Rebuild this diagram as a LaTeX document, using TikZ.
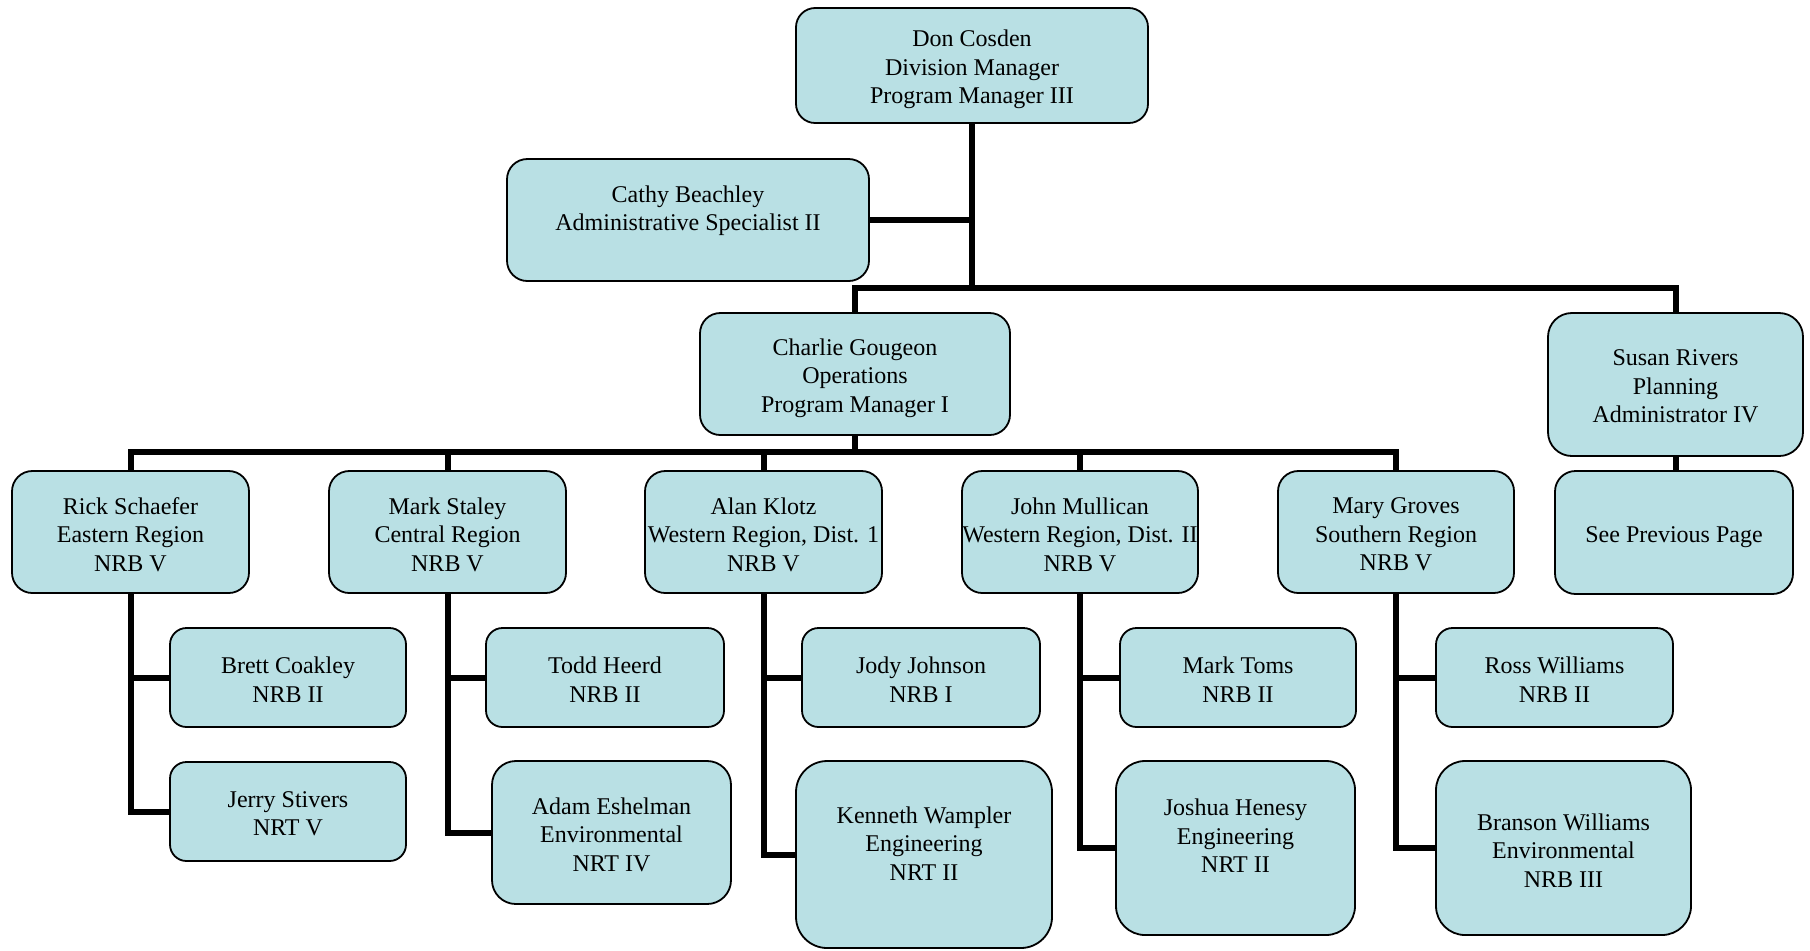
\documentclass[tikz,border=0pt]{standalone}
\usepackage{fontspec}
\setmainfont{Liberation Serif}
\definecolor{boxfill}{RGB}{185,224,228}
\tikzset{
  obox/.style={draw=black, line width=0.9pt, fill=boxfill, inner sep=0pt},
  otext/.style={inner sep=0pt, align=center, font=\fontsize{12}{14.25}\selectfont},
  conn/.style={draw=black, line width=3pt, line join=miter}
}
\newcommand{\orgbox}[7][1]{%
  \node[obox, minimum width={(#5-#3)*0.5pt}, minimum height={(#6-#4)*0.5pt},
    rounded corners={min(#5-#3,#6-#4)/12*1pt}] (#2) at ({(#3+#5)/2},{(#4+#6)/2}) {};
  \node[otext, yshift=-#1pt] (#2-t) at (#2.center) {#7};}
\begin{document}
\begin{tikzpicture}[x=0.5pt,y=-0.5pt]
\useasboundingbox (0,0) rectangle (1810,950);
% boxes
\orgbox[2]{don}{796}{8}{1148}{123}{Don Cosden\\Division Manager\\Program Manager III}
\orgbox[1.2]{cathy}{507}{159}{869}{281}{Cathy Beachley\\Administrative Specialist II\\\mbox{}}
\orgbox[2]{charlie}{700}{313}{1010}{435}{Charlie Gougeon\\Operations\\Program Manager I}
\orgbox[1]{susan}{1548}{313}{1803}{456}{Susan Rivers\\Planning\\Administrator IV}
\orgbox[2.2]{seeprev}{1555}{471}{1793}{594}{See Previous Page}
\orgbox[1.2]{rick}{12}{471}{249}{593}{Rick Schaefer\\Eastern Region\\NRB V}
\orgbox[1.2]{mark}{329}{471}{566}{593}{Mark Staley\\Central Region\\NRB V}
\orgbox[1.2]{alan}{645}{471}{882}{593}{Alan Klotz\\Western Region, Dist. 1\\NRB V}
\orgbox[1.2]{john}{962}{471}{1198}{593}{John Mullican\\Western Region, Dist. II\\NRB V}
\orgbox[1.2]{mary}{1278}{471}{1514}{593}{Mary Groves\\Southern Region\\NRB V}
\orgbox{brett}{170}{628}{406}{727}{Brett Coakley\\NRB II}
\orgbox{todd}{486}{628}{724}{727}{Todd Heerd\\NRB II}
\orgbox{jody}{802}{628}{1040}{727}{Jody Johnson\\NRB I}
\orgbox{toms}{1120}{628}{1356}{727}{Mark Toms\\NRB II}
\orgbox{ross}{1436}{628}{1673}{727}{Ross Williams\\NRB II}
\orgbox[1.2]{jerry}{170}{762}{406}{861}{Jerry Stivers\\NRT V}
\orgbox{adam}{492}{761}{731}{904}{Adam Eshelman\\Environmental\\NRT IV}
\orgbox[1.6]{kenneth}{796}{761}{1052}{948}{Kenneth Wampler\\Engineering\\NRT II\\\mbox{}}
\orgbox[1]{joshua}{1116}{761}{1355}{935}{Joshua Henesy\\Engineering\\NRT II\\\mbox{}}
\orgbox[1.2]{branson}{1436}{761}{1691}{935}{Branson Williams\\Environmental\\NRB III}
% bar coordinates
\coordinate (tb) at (972,288);
\coordinate (cb) at (130,452);
% top level connectors
\draw[conn] (don.south) -- (don.south |- tb);
\draw[conn] (cathy.east) -- (cathy.east -| don.south);
\draw[conn] (charlie.north) -- (charlie.north |- tb) -- (susan.north |- tb) -- (susan.north);
\draw[conn] (susan.south) -- (susan.south |- seeprev.north);
% operations bar
\draw[conn] (charlie.south) -- (charlie.south |- cb);
\draw[conn] (rick.north) -- (rick.north |- cb) -- (mary.north |- cb) -- (mary.north);
\draw[conn] (mark.north) -- (mark.north |- cb);
\draw[conn] (alan.north) -- (alan.north |- cb);
\draw[conn] (john.north) -- (john.north |- cb);
% column children
\draw[conn] (rick.south) -- (rick.south |- jerry.west) -- (jerry.west);
\draw[conn] (rick.south |- brett.west) -- (brett.west);
\draw[conn] (mark.south) -- (mark.south |- adam.west) -- (adam.west);
\draw[conn] (mark.south |- todd.west) -- (todd.west);
\draw[conn] (alan.south) -- (alan.south |- kenneth.west) -- (kenneth.west);
\draw[conn] (alan.south |- jody.west) -- (jody.west);
\draw[conn] (john.south) -- (john.south |- joshua.west) -- (joshua.west);
\draw[conn] (john.south |- toms.west) -- (toms.west);
\draw[conn] (mary.south) -- (mary.south |- branson.west) -- (branson.west);
\draw[conn] (mary.south |- ross.west) -- (ross.west);
\end{tikzpicture}
\end{document}
